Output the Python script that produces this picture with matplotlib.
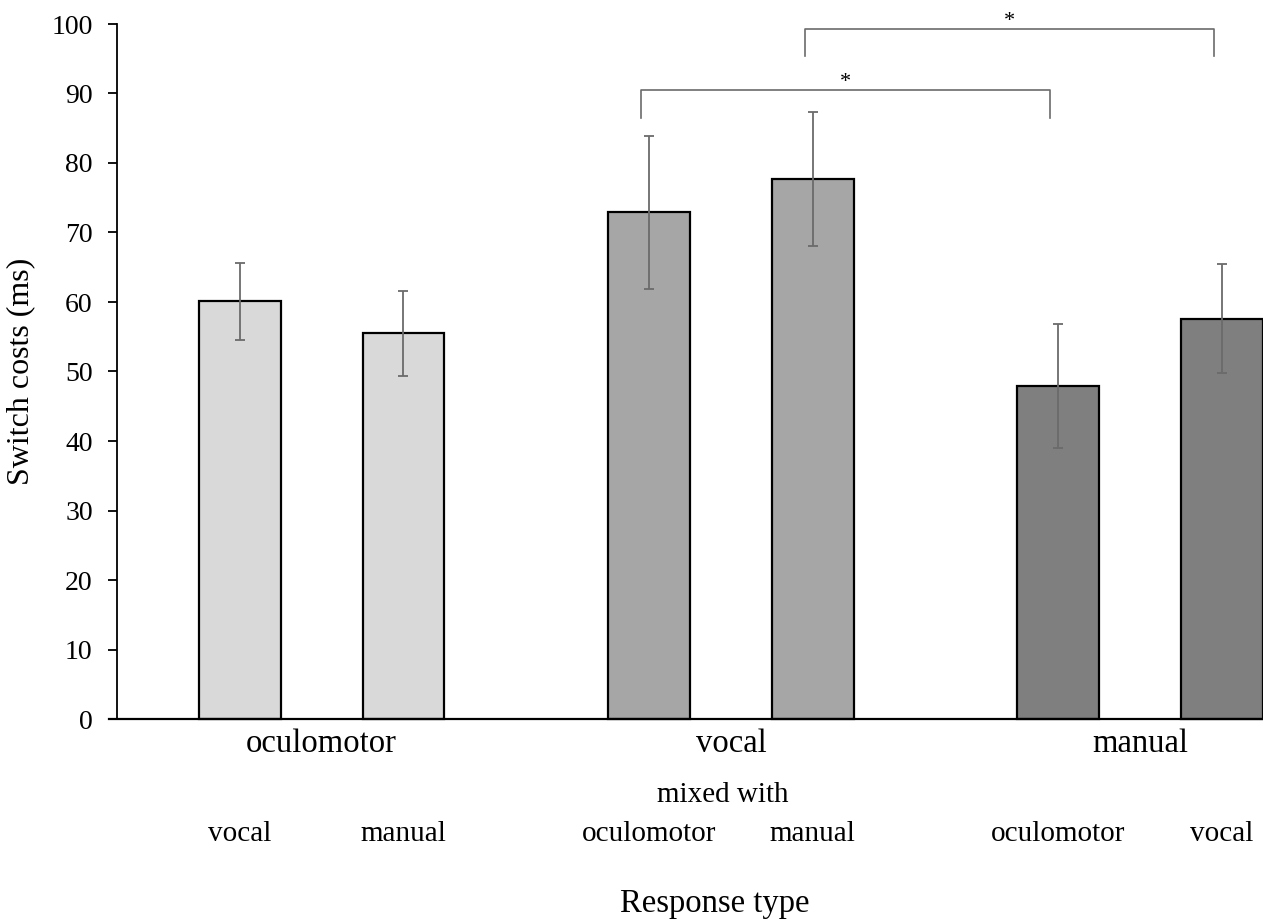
import matplotlib
matplotlib.use("Agg")
import matplotlib.pyplot as plt

# ---- data ----
groups = ["oculomotor", "vocal", "manual"]
sub_labels = ["vocal", "manual", "oculomotor", "manual", "oculomotor", "vocal"]
values = [60.1, 55.5, 72.9, 77.7, 47.9, 57.6]
errors = [5.5, 6.1, 11.0, 9.7, 8.9, 7.8]
bar_colors = ["#d9d9d9", "#d9d9d9", "#a6a6a6", "#a6a6a6", "#7f7f7f", "#7f7f7f"]
positions = [1.5, 3.5, 6.5, 8.5, 11.5, 13.5]
y_ticks = [0, 10, 20, 30, 40, 50, 60, 70, 80, 90, 100]
# significance brackets: (bar index a, bar index b, bracket height, leg bottom)
brackets = [(2, 4, 90.5, 86.5), (3, 5, 99.3, 95.4)]

plt.rcParams['font.family'] = ['Liberation Serif', 'DejaVu Serif']

fig = plt.figure(figsize=(12.63, 9.22), dpi=100)
ax = fig.add_axes([117/1263, 1-719/922, 1-117/1263, 695/922])

ax.bar(positions, values, width=1.0, color=bar_colors, edgecolor="black",
       linewidth=1.6, zorder=2, clip_on=False)
ax.errorbar(positions, values, yerr=errors, fmt="none", ecolor="#6b6b6b",
            elinewidth=1.3, capsize=3.5, capthick=1.3, zorder=3, clip_on=False)

ax.set_xlim(0, 14)
ax.set_ylim(0, 100)
ax.set_yticks(y_ticks)
ax.set_yticklabels([str(t) for t in y_ticks], fontsize=20)
ax.tick_params(axis="y", direction="out", length=6.5, width=1.3, pad=11)
ax.set_xticks([])
for s in ["top", "right"]:
    ax.spines[s].set_visible(False)
ax.spines["left"].set_linewidth(1.3)
ax.spines["bottom"].set_linewidth(1.6)
ax.spines["bottom"].set_bounds(-0.1, 14)

ax.set_ylabel("Switch costs (ms)", fontsize=23, va="center")
ax.yaxis.set_label_coords(-0.0838, 0.5)

trans = ax.get_xaxis_transform()
# group labels
for gi, g in enumerate(groups):
    cx = (positions[2*gi] + positions[2*gi+1]) / 2
    ax.text(cx, -0.0475, g, transform=trans, ha="center", va="baseline", fontsize=23.5)
# sub labels
for p, lab in zip(positions, sub_labels):
    ax.text(p, -0.1755, lab, transform=trans, ha="center", va="baseline", fontsize=21)
ax.text((positions[2] + positions[3]) / 2 - 0.1, -0.1194, "mixed with", transform=trans,
        ha="center", va="baseline", fontsize=21)
ax.text(7.3, -0.2777, "Response type", transform=trans, ha="center", va="baseline",
        fontsize=23.5)

# significance brackets
for a, b, h, low in brackets:
    xa = positions[a] - 0.1
    xb = positions[b] - 0.1
    ax.plot([xa, xa, xb, xb], [low, h, h, low], color="#6b6b6b", lw=1.2,
            clip_on=False, zorder=3)
    ax.text((xa + xb) / 2, h - 0.3, "*", ha="center", va="bottom", fontsize=16)

fig.savefig("out.png", dpi=100)
